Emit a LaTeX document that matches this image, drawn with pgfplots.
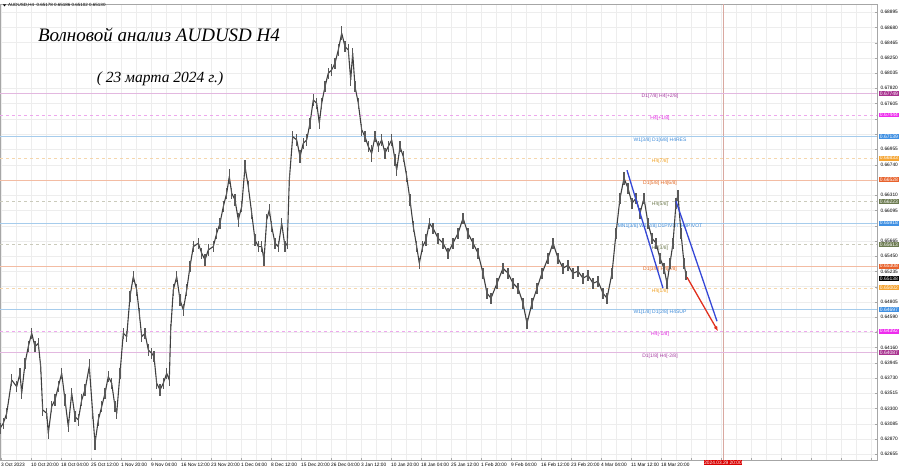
\documentclass[border=0pt]{standalone}
\usepackage{pgfplots}
\pgfplotsset{compat=1.18}
\usepackage{pgfplotstable}
\usetikzlibrary{arrows.meta}
\usepackage{fontspec}
\setmainfont{Liberation Sans}
\newfontfamily\handfont{Liberation Serif}
\definecolor{lvPurpleL}{HTML}{E3B8E0}
\definecolor{lvPurpleT}{HTML}{A33A9E}
\definecolor{lvPurpleB}{HTML}{A8328F}
\definecolor{lvMagL}{HTML}{EDA8ED}
\definecolor{lvMagT}{HTML}{E020E0}
\definecolor{lvMagB}{HTML}{EE2BEE}
\definecolor{lvBlueL}{HTML}{A6CCEC}
\definecolor{lvBlueT}{HTML}{3C8AD8}
\definecolor{lvBlueB}{HTML}{3F90E3}
\definecolor{lvOrL}{HTML}{F5D6AC}
\definecolor{lvOrT}{HTML}{F0A020}
\definecolor{lvOrB}{HTML}{F5A533}
\definecolor{lvRedL}{HTML}{F3BCA3}
\definecolor{lvRedT}{HTML}{E0651F}
\definecolor{lvRedB}{HTML}{E8622C}
\definecolor{lvOlL}{HTML}{CACABB}
\definecolor{lvOlT}{HTML}{6E7A4E}
\definecolor{lvOlB}{HTML}{6B7A4F}
\definecolor{trendBlue}{HTML}{3547D6}
\definecolor{trendRed}{HTML}{E0301E}
\definecolor{nowLine}{HTML}{D9A8A0}

\pgfplotstableread{
x m e
0 0.63021 0.0008
3.3 0.63091 0.0008
6.7 0.63233 0.0008
11.7 0.63703 0.0008
16.7 0.63609 0.0008
20 0.63797 0.0008
21.7 0.63515 0.0008
25 0.63939 0.0008
28.3 0.64174 0.0008
31.7 0.64362 0.0008
35 0.64174 0.0008
38.3 0.64221 0.0008
40.7 0.63892 0.0008
42.7 0.63280 0.0008
46.7 0.63233 0.0008
48.3 0.62950 0.0008
51.7 0.63327 0.0008
55 0.63421 0.0008
58.3 0.63609 0.0008
61.7 0.63797 0.0008
65 0.63421 0.0008
68.3 0.63044 0.0008
71.7 0.63515 0.0008
75 0.63186 0.0008
78.3 0.63138 0.0008
81.7 0.63421 0.0008
85 0.63562 0.0008
89.3 0.63892 0.0010
92.7 0.63233 0.0008
95 0.62809 0.0009
98.3 0.63138 0.0008
101.7 0.63327 0.0008
105 0.63515 0.0008
108.3 0.63750 0.0008
111.7 0.63656 0.0008
115 0.63327 0.0008
116.7 0.63233 0.0008
120 0.63797 0.0008
123.3 0.64362 0.0008
126.7 0.64315 0.0008
130 0.64880 0.0008
133.3 0.65162 0.0008
136.7 0.64974 0.0008
139.3 0.64645 0.0008
141.7 0.64315 0.0008
145 0.64362 0.0008
148.3 0.64127 0.0008
151.7 0.64080 0.0008
154 0.64033 0.0008
156.7 0.63656 0.0008
160 0.63562 0.0009
163.3 0.63656 0.0008
166.7 0.63797 0.0008
169.3 0.63703 0.0008
170.7 0.64409 0.0008
173.3 0.64974 0.0008
176.7 0.65162 0.0008
180 0.64833 0.0008
183.3 0.64692 0.0009
186.7 0.64974 0.0008
190 0.65304 0.0008
193.3 0.65586 0.0008
198.3 0.65633 0.0008
201.7 0.65492 0.0008
205 0.65398 0.0009
208.3 0.65539 0.0008
213.3 0.65586 0.0008
216.7 0.65774 0.0008
220 0.65916 0.0008
223.3 0.66151 0.0008
226.7 0.66339 0.0008
229.3 0.66575 0.0010
231.7 0.66339 0.0008
235 0.66245 0.0008
238.3 0.65963 0.0010
241.7 0.66151 0.0008
245 0.66716 0.0009
248.3 0.66433 0.0008
251.7 0.66057 0.0008
255 0.65680 0.0008
258.3 0.65586 0.0008
261.7 0.65586 0.0008
264 0.65398 0.0009
266.7 0.65963 0.0008
269.3 0.66104 0.0008
271.7 0.65869 0.0008
275 0.65633 0.0008
278.3 0.65586 0.0008
281.7 0.65916 0.0008
285 0.65586 0.0008
287.3 0.65633 0.0008
289.3 0.66527 0.0008
292.7 0.67139 0.0008
296.7 0.67092 0.0008
300 0.66857 0.0009
303.3 0.67045 0.0008
306.7 0.67092 0.0008
310 0.67328 0.0008
313.3 0.67657 0.0008
316.7 0.67610 0.0008
319.3 0.67328 0.0008
321.7 0.67610 0.0008
325 0.67845 0.0008
328.3 0.68034 0.0008
331.7 0.68081 0.0008
335 0.68175 0.0008
338.3 0.68363 0.0008
341.7 0.68599 0.0010
345 0.68410 0.0008
348.3 0.68363 0.0008
350.7 0.67940 0.0008
352.7 0.68316 0.0008
355 0.67845 0.0008
358.3 0.67610 0.0008
361.7 0.67234 0.0008
365 0.67139 0.0008
368.3 0.66998 0.0008
371.7 0.66904 0.0012
375 0.67139 0.0008
378.3 0.66998 0.0008
381.7 0.67092 0.0008
385 0.66904 0.0008
388.3 0.66998 0.0008
391.7 0.67092 0.0008
395 0.66810 0.0008
396.7 0.66669 0.0008
400 0.66998 0.0008
403.3 0.66857 0.0008
406.7 0.66575 0.0008
410 0.66245 0.0008
413.3 0.65869 0.0008
416.7 0.65586 0.0008
419.3 0.65351 0.0008
422.7 0.65586 0.0008
426 0.65680 0.0008
429.3 0.65916 0.0008
433 0.65845 0.0008
438 0.65704 0.0008
443 0.65634 0.0008
448 0.65492 0.0008
453 0.65634 0.0008
458 0.65774 0.0008
463 0.65986 0.0008
468 0.65774 0.0008
473 0.65634 0.0008
478 0.65492 0.0008
483 0.65210 0.0008
487 0.64927 0.0008
491 0.64857 0.0008
497 0.65068 0.0008
503 0.65280 0.0008
508 0.65210 0.0008
513 0.65068 0.0008
518 0.64998 0.0008
523 0.64786 0.0008
527 0.64504 0.0008
532 0.64786 0.0008
537 0.64998 0.0008
542 0.65210 0.0008
548 0.65422 0.0008
553 0.65634 0.0008
558 0.65422 0.0008
563 0.65280 0.0008
568 0.65323 0.0008
573 0.65210 0.0008
578 0.65238 0.0008
583 0.65139 0.0008
588 0.65181 0.0008
593 0.65068 0.0008
598 0.65097 0.0008
603 0.64927 0.0008
607 0.64857 0.0008
612 0.65210 0.0008
616 0.65774 0.0008
620 0.66269 0.0008
624 0.66551 0.0009
628 0.66410 0.0008
632 0.66198 0.0008
636 0.66269 0.0008
640 0.66057 0.0008
644 0.66269 0.0008
648 0.65916 0.0008
652 0.65704 0.0008
656 0.65634 0.0008
660 0.65422 0.0008
664 0.65280 0.0008
667 0.65068 0.0008
670 0.65351 0.0008
673 0.65634 0.0008
676 0.66198 0.0008
678 0.66311 0.0008
681 0.65774 0.0008
684 0.65351 0.0008
686 0.65181 0.0006
}\candles

\newcommand{\level}[7]{%
  \addplot[#2, line width=0.55pt, #5] coordinates {(0,#1) (877,#1)};
  \node[anchor=north, inner sep=0.6pt, text=#3, font=\fontsize{5}{5}\selectfont] at (axis cs:660,#1) {#6};
  \node[anchor=west, fill=#4, text=white, inner sep=0.7pt, font=\fontsize{5}{5}\selectfont] at (axis cs:879,#1) {#7};
}

\begin{document}
\begin{tikzpicture}[x=1pt,y=1pt]
\useasboundingbox (0,0) rectangle (900,468);
\begin{axis}[at={(0,11)}, anchor=south west, scale only axis,
  width=877pt, height=456pt,
  xmin=0, xmax=877, ymin=0.62570, ymax=0.69008,
  clip=false,
  axis line style={gray!70, line width=0.5pt},
  ytick={0.62655,0.62870,0.63085,0.63300,0.63515,0.63730,0.63945,0.64160,0.64375,0.64590,0.64805,0.65020,0.65235,0.65450,0.65665,0.65880,0.66095,0.66310,0.66525,0.66740,0.66960,0.67175,0.67390,0.67605,0.67820,0.68035,0.68250,0.68465,0.68680,0.68895},
  yticklabels={0.62655,0.62870,0.63085,0.63300,0.63515,0.63730,0.63945,0.64160,,0.64590,0.64805,,0.65235,0.65450,0.65665,,0.66095,0.66310,,0.66740,0.66955,,,0.67605,0.67820,0.68035,0.68250,0.68465,0.68680,0.68895},
  yticklabel pos=right, ytick pos=right,
  yticklabel style={font=\fontsize{4.8}{5}\selectfont},
  xtick={1,31,...,871},
  xticklabels={3 Oct 2023,10 Oct 20:00,18 Oct 04:00,25 Oct 12:00,1 Nov 20:00,9 Nov 04:00,16 Nov 12:00,23 Nov 20:00,1 Dec 04:00,8 Dec 12:00,15 Dec 20:00,26 Dec 04:00,3 Jan 12:00,10 Jan 20:00,18 Jan 04:00,25 Jan 12:00,1 Feb 20:00,9 Feb 04:00,16 Feb 12:00,23 Feb 20:00,4 Mar 04:00,11 Mar 12:00,18 Mar 20:00,,,,,,,,},
  xtick pos=bottom,
  xticklabel style={font=\fontsize{4.8}{5}\selectfont, anchor=north west, inner xsep=0pt, yshift=1pt},
  minor x tick num=1,
  major tick length=2pt, minor tick length=0pt,
  tick style={gray!70},
  grid=both,
  major grid style={gray!14, line width=0.4pt},
  minor grid style={gray!14, line width=0.4pt},
]
\addplot[nowLine, line width=0.6pt] coordinates {(723,0.62570) (723,0.69008)};

\level{0.67749}{lvPurpleL}{lvPurpleT}{lvPurpleB}{solid}{D1[7/8] H4[+2/8]}{0.67749}
\level{0.67444}{lvMagL}{lvMagT}{lvMagB}{dashed}{H4[+1/8]}{0.67444}
\level{0.67139}{lvBlueL}{lvBlueT}{lvBlueB}{solid}{W1[3/8] D1[6/8] H4RES}{0.67139}
\level{0.66833}{lvOrL}{lvOrT}{lvOrB}{dashed}{H4[7/8]}{0.66833}
\level{0.66528}{lvRedL}{lvRedT}{lvRedB}{solid}{D1[5/8] H4[6/8]}{0.66528}
\level{0.66223}{lvOlL}{lvOlT}{lvOlB}{dashed}{H4[5/8]}{0.66223}
\level{0.65918}{lvBlueL}{lvBlueT}{lvBlueB}{solid}{MN1[3/8] W1[2/8] D1PIVOT H4PIVOT}{0.65918}
\level{0.65613}{lvOlL}{lvOlT}{lvOlB}{dashed}{H4[3/8]}{0.65613}
\level{0.65308}{lvRedL}{lvRedT}{lvRedB}{solid}{D1[3/8] H4[2/8]}{0.65308}
\level{0.65002}{lvOrL}{lvOrT}{lvOrB}{dashed}{H4[1/8]}{0.65002}
\level{0.64697}{lvBlueL}{lvBlueT}{lvBlueB}{solid}{W1[1/8] D1[2/8] H4SUP}{0.64697}
\level{0.64392}{lvMagL}{lvMagT}{lvMagB}{dashed}{H4[-1/8]}{0.64392}
\level{0.64087}{lvPurpleL}{lvPurpleT}{lvPurpleB}{solid}{D1[1/8] H4[-2/8]}{0.64087}

\addplot[black!75, line width=1.1pt, line join=round, mark=none,
  error bars/.cd, y dir=both, y explicit, error mark=none,
  error bar style={black!65, line width=1.2pt}]
  table[x=x, y=m, y error=e] {\candles};

\node[anchor=west, fill=black, text=white, inner sep=0.7pt, font=\fontsize{5}{5}\selectfont] at (axis cs:879,0.65138) {0.65138};

\addplot[trendBlue, line width=1.3pt] coordinates {(627,0.66664) (663,0.64998)};
\addplot[trendBlue, line width=1.3pt] coordinates {(676,0.66227) (717,0.64532)};
\addplot[trendRed, line width=1.3pt, -{Latex[length=5pt,width=4pt]}] coordinates {(687,0.65154) (718,0.64391)};

\node[fill=red!85!black, text=white, inner sep=0.8pt, anchor=north, font=\fontsize{4.8}{5}\selectfont] at (axis cs:723,0.62570) {2024.03.29 20:00};
\end{axis}
\fill[black] (3,463.5) -- (6,463.5) -- (4.5,461.5) -- cycle;
\node[anchor=west, inner sep=0pt, font=\fontsize{4.5}{5}\selectfont] at (8,462.8) {AUDUSD,H4\ \ 0.65178 0.65186 0.65102 0.65130};
\node[font=\handfont\itshape\fontsize{19}{20}\selectfont] at (159,433) {Волновой анализ AUDUSD H4};
\node[font=\handfont\itshape\fontsize{15.5}{16}\selectfont] at (160,389) {( 23 марта 2024 г.)};
\end{tikzpicture}
\end{document}
